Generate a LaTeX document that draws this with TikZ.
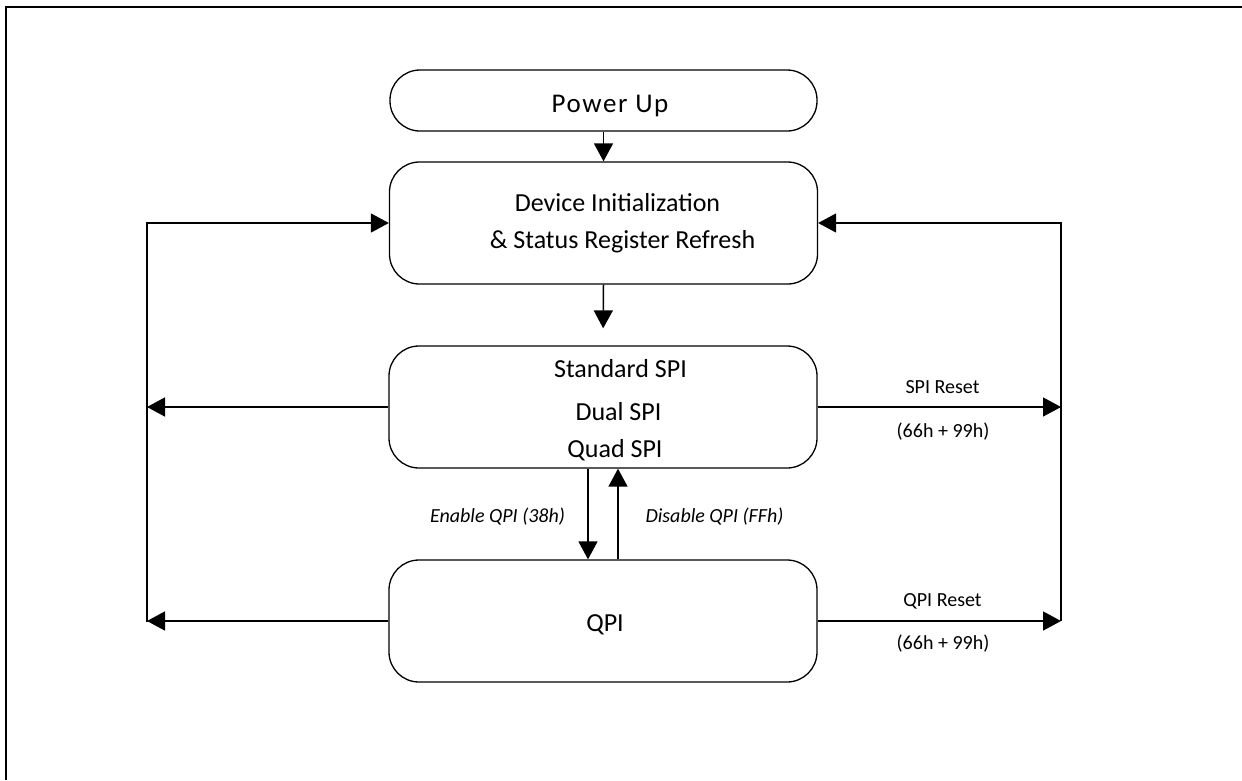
\documentclass[tikz,border=0pt]{standalone}
\usepackage{fontspec}
\setmainfont{Carlito}
\usetikzlibrary{arrows.meta}
\begin{document}
\begin{tikzpicture}[x=1pt,y=-1pt,
  box/.style={draw, line width=1.3pt, rounded corners=30pt, minimum width=428pt, minimum height=122pt, inner sep=0pt},
  big/.style={font=\fontsize{26}{30}\selectfont, anchor=base, inner sep=0pt},
  small/.style={font=\fontsize{20}{24}\selectfont, anchor=base, inner sep=0pt},
  arr/.style={line width=1.5pt, -{Triangle[length=18pt,width=19pt]}},
  plain/.style={line width=1.5pt}
]
\useasboundingbox (0,0) rectangle (1242,780);
\draw[line width=2pt] (1242,7) -- (6,7) -- (6,780);

% boxes
\node[draw, line width=1.3pt, rounded corners=30pt, minimum width=427pt, minimum height=61pt, inner sep=0pt] (pwr) at (603.5,100.5) {};
\node[box] (init) at (603.5,223) {};
\node[box] (std) at (603,407) {};
\node[box] (qpi) at (603,621) {};

% texts
\node[big, font=\fontsize{27}{30}\selectfont\addfontfeature{LetterSpace=6}] (tpwr) at (610,112) {Power Up};
\node[big] (tinit1) at (617.5,211) {Device Initialization};
\node[big] (tinit2) at (622.5,248) {\& Status Register Refresh};
\node[big] (tstd1) at (620.5,377) {Standard SPI};
\node[big] (tstd2) at (618.5,420) {Dual SPI};
\node[big] (tstd3) at (615,457) {Quad SPI};
\node[big] (tqpi) at (605,631) {QPI};

% side rails
\coordinate (lt) at (147,223);
\coordinate (lb) at (147,622);
\coordinate (rt) at (1061,223);
\coordinate (rb) at (1061,621);

% connectors
\draw[arr] (pwr.south) -- (init.north);
\draw[arr, shorten >=17pt] (init.south) -- (std.north);
\draw[arr] ([xshift=-15pt]std.south) -- ([xshift=-15pt]qpi.north);
\draw[arr] ([xshift=15pt]qpi.north) -- ([xshift=15pt]std.south);

\draw[arr] (lb) -- (lt) -- (init.west);
\draw[arr] (std.west) -- (std.west -| lt);
\draw[arr] (qpi.west) -- (qpi.west -| lt);

\draw[arr] (rb) -- (rt) -- (init.east);
\draw[arr] (std.east) -- (std.east -| rt);
\draw[arr] (qpi.east) -- (qpi.east -| rt);

% labels
\node[small] (spir) at (942.5,393) {SPI Reset};
\node[small] (spic) at (943,437) {(66h + 99h)};
\node[small] (qpir) at (942.5,606) {QPI Reset};
\node[small] (qpic) at (943,649) {(66h + 99h)};
\node[small, font=\fontsize{20}{24}\selectfont\itshape] (enl) at (497.5,522) {Enable QPI (38h)};
\node[small, font=\fontsize{20}{24}\selectfont\itshape] (dsl) at (714.5,522) {Disable QPI (FFh)};
\end{tikzpicture}
\end{document}
